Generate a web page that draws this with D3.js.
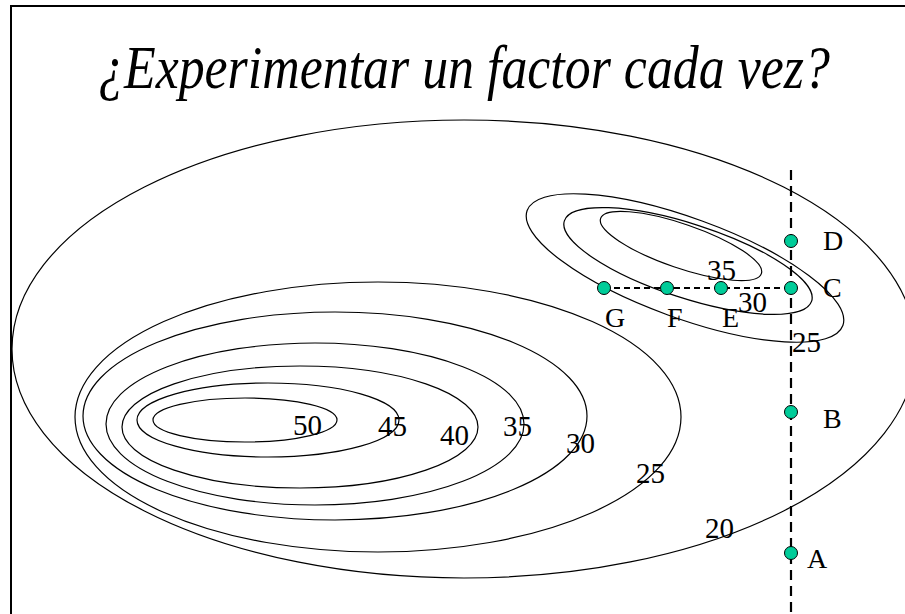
<!DOCTYPE html>
<html>
<head>
<meta charset="utf-8">
<script src="https://cdn.jsdelivr.net/npm/d3@7"></script>
<style>
  html, body { margin: 0; padding: 0; background: #fff; }
  #chart { width: 905px; height: 614px; }
  text { font-family: 'Liberation Serif', 'Times New Roman', 'DejaVu Serif', serif; fill: #000; }
</style>
</head>
<body>
<div id="chart"></div>
<script>
// Response surface in factor units (factor 1 on x, factor 2 on y)
const levels   = [50, 45, 40, 35, 30, 25, 20, 35, 30, 25];
const centersX = [24.0, 26.3, 29.5, 31.0, 33.0, 37.3, 45.9, 67.6, 68.3, 68.0];
const centersY = [19.4, 19.4, 18.7, 19.0, 19.8, 19.7, 26.5, 36.8, 35.3, 34.6];
const radiiX   = [9.2, 13.1, 17.8, 20.9, 25.2, 30.3, 45.2, 8.5, 13.0, 16.8];
const radiiY   = [2.2, 3.7, 6.1, 8.1, 10.4, 13.5, 22.9, 2.2, 3.7, 5.0];
const tilts    = [0, 0, 0, 0, 0, 0, 0, 19, 18, 20];

// Contour label anchors
const labelLevels = ['50', '45', '40', '35', '30', '25', '20', '35', '30', '25'];
const labelX = [28.8, 37.3, 43.5, 49.8, 56.1, 63.1, 70.0, 70.2, 73.3, 78.7];
const labelY = [17.9, 17.8, 16.9, 17.8, 16.1, 13.1, 7.6, 33.4, 30.2, 26.2];

// Experimental runs
const runNames = ['A', 'B', 'C', 'D', 'E', 'F', 'G'];
const runX = [78.6, 78.6, 78.6, 78.6, 71.6, 66.2, 59.9];
const runY = [6.1, 20.2, 32.6, 37.3, 32.6, 32.6, 32.6];

const title = '¿Experimentar un factor cada vez?';

const W = 905, H = 614;

const x = d3.scaleLinear().domain([0, 90]).range([5, 905]);
const y = d3.scaleLinear().domain([0, 60]).range([614, 14]);

const svg = d3.select('#chart').append('svg')
  .attr('width', W).attr('height', H);

// slide frame (top and left edges only are visible)
svg.append('line')
  .attr('x1', 11).attr('y1', 6).attr('x2', W).attr('y2', 6)
  .attr('stroke', '#000').attr('stroke-width', 2);
svg.append('line')
  .attr('x1', 11).attr('y1', 5).attr('x2', 11).attr('y2', H)
  .attr('stroke', '#000').attr('stroke-width', 2);

// Title: tall, slightly condensed italic, squeezed to fit 98..830
const t = svg.append('text')
  .attr('font-size', 62)
  .attr('font-style', 'italic')
  .text(title);
const tw = t.node().getComputedTextLength();
t.attr('transform', `translate(98,88) scale(${732 / tw},1)`);

// Contours
const contours = levels.map((lv, i) => ({
  level: lv, cx: centersX[i], cy: centersY[i], rx: radiiX[i], ry: radiiY[i], tilt: tilts[i]
}));

svg.append('g').selectAll('ellipse')
  .data(contours)
  .join('ellipse')
  .attr('cx', d => x(d.cx))
  .attr('cy', d => y(d.cy))
  .attr('rx', d => x(d.rx) - x(0))
  .attr('ry', d => y(0) - y(d.ry))
  .attr('transform', d => `rotate(${d.tilt},${x(d.cx)},${y(d.cy)})`)
  .attr('fill', 'none')
  .attr('stroke', '#000')
  .attr('stroke-width', 1.2);

// Dashed paths of the one-factor-at-a-time search
const runs = runNames.map((n, i) => ({ name: n, x: runX[i], y: runY[i] }));
const colX = runs[0].x;
const rowY = runs[2].y;

svg.append('line')
  .attr('x1', x(colX)).attr('y1', y(44.4))
  .attr('x2', x(colX)).attr('y2', y(0))
  .attr('stroke', '#000').attr('stroke-width', 2.2)
  .attr('stroke-dasharray', '10,6');

svg.append('line')
  .attr('x1', x(d3.min(runX))).attr('y1', y(rowY))
  .attr('x2', x(colX)).attr('y2', y(rowY))
  .attr('stroke', '#000').attr('stroke-width', 2)
  .attr('stroke-dasharray', '6,4');

svg.append('g').selectAll('circle')
  .data(runs)
  .join('circle')
  .attr('cx', d => x(d.x))
  .attr('cy', d => y(d.y))
  .attr('r', 6.5)
  .attr('fill', '#00CC99')
  .attr('stroke', '#000')
  .attr('stroke-width', 1);

// run labels, offsets in px
const runOffset = {
  A: [16, 15], B: [32, 16], C: [32, 9], D: [32, 9],
  E: [1, 39], F: [0, 39], G: [1, 39]
};
svg.append('g').selectAll('text')
  .data(runs)
  .join('text')
  .attr('x', d => x(d.x) + runOffset[d.name][0])
  .attr('y', d => y(d.y) + runOffset[d.name][1])
  .attr('font-size', 28)
  .text(d => d.name);

// contour labels
svg.append('g').selectAll('text')
  .data(labelLevels.map((t, i) => ({ t, x: labelX[i], y: labelY[i] })))
  .join('text')
  .attr('x', d => x(d.x))
  .attr('y', d => y(d.y))
  .attr('font-size', 29)
  .text(d => d.t);
</script>
</body>
</html>
